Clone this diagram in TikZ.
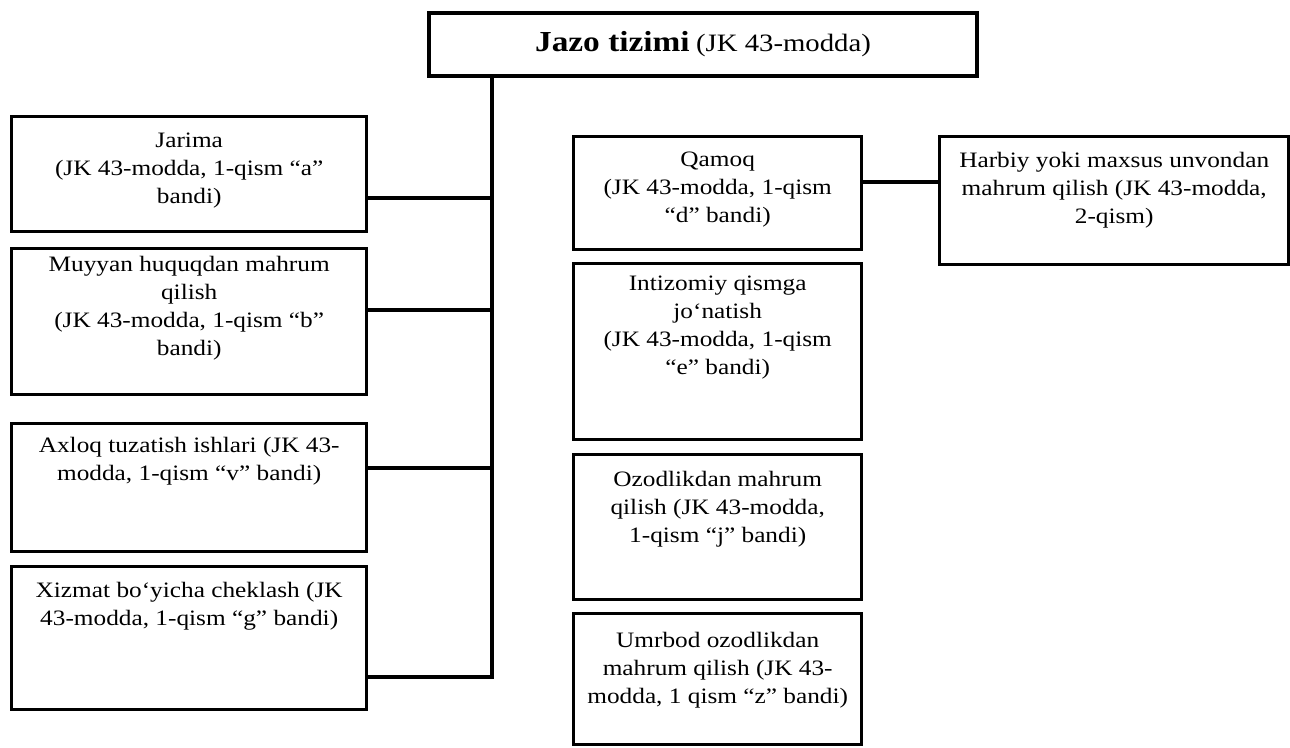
\documentclass[tikz,border=0pt]{standalone}
\usepackage{fontspec}
\setmainfont{Liberation Serif}[FakeStretch=1.15]
\newcommand{\cellbox}[4]{\parbox[t][#2][t]{#1}{\centering\vspace*{#3}#4}}

\begin{document}
\begin{tikzpicture}[x=0.5pt, y=-0.5pt,
  box/.style={draw, line width=1.7pt, anchor=north west, inner sep=0pt,
    font=\fontsize{11}{14}\selectfont},
  link/.style={line width=1.7pt}]
\useasboundingbox (0,0) rectangle (1290,748);
% sarlavha
\node[box, line width=2pt, minimum width=274pt, minimum height=31.5pt] (jazo) at (427,11)
  {{\fontsize{14.5}{16}\selectfont\bfseries Jazo tizimi} {\fontsize{12.5}{14}\selectfont(JK 43-modda)}};
% chap ustun
\node[box] (jarima) at (10,115) {\cellbox{177.5pt}{57.5pt}{8pt}{Jarima\\(JK 43-modda, 1-qism “a”\\bandi)}};
\node[box] (muyyan) at (10,247) {\cellbox{177.5pt}{73pt}{4pt}{Muyyan huquqdan mahrum\\qilish\\(JK 43-modda, 1-qism “b”\\bandi)}};
\node[box] (axloq) at (10,422) {\cellbox{177.5pt}{64pt}{7pt}{Axloq tuzatish ishlari (JK 43-\\modda, 1-qism “v” bandi)}};
\node[box] (xizmat) at (10,565) {\cellbox{177.5pt}{71.5pt}{8pt}{Xizmat bo‘yicha cheklash (JK\\43-modda, 1-qism “g” bandi)}};
% o'ng ustun
\node[box] (qamoq) at (572,135) {\cellbox{144pt}{56.5pt}{7.5pt}{Qamoq\\(JK 43-modda, 1-qism\\“d” bandi)}};
\node[box] (intizom) at (572,262) {\cellbox{144pt}{88pt}{6pt}{Intizomiy qismga\\jo‘natish\\(JK 43-modda, 1-qism\\“e” bandi)}};
\node[box] (ozod) at (572,453) {\cellbox{144pt}{72.5pt}{8.5pt}{Ozodlikdan mahrum\\qilish (JK 43-modda,\\1-qism “j” bandi)}};
\node[box] (umrbod) at (572,612) {\cellbox{144pt}{65.5pt}{9.5pt}{Umrbod ozodlikdan\\mahrum qilish (JK 43-\\modda, 1 qism “z” bandi)}};
\node[box] (harbiy) at (938,135) {\cellbox{174.5pt}{64pt}{8pt}{Harbiy yoki maxsus unvondan\\mahrum qilish (JK 43-modda,\\2-qism)}};
% ulovchi chiziqlar
\coordinate (b1) at (492,198);
\coordinate (b2) at (492,310);
\coordinate (b3) at (492,468);
\coordinate (b4) at (492,677);
\coordinate (h1) at (900,182);
\draw[link, line width=2pt] (jazo.south -| b4) -- (b4) -- (xizmat.east |- b4);
\draw[link] (jarima.east |- b1) -- (b1);
\draw[link] (muyyan.east |- b2) -- (b2);
\draw[link] (axloq.east |- b3) -- (b3);
\draw[link] (qamoq.east |- h1) -- (harbiy.west |- h1);
\end{tikzpicture}
\end{document}
